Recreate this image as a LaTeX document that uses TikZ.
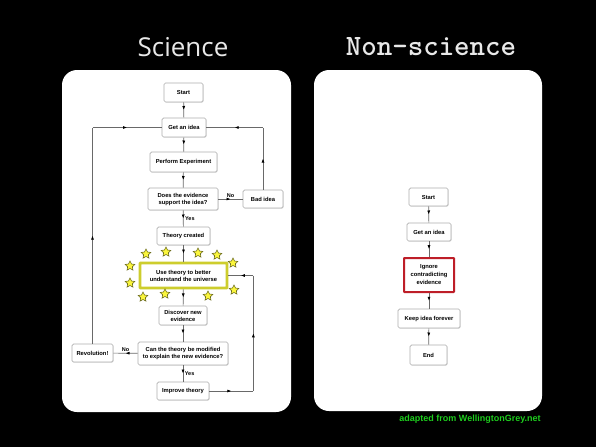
\documentclass[tikz,border=0pt]{standalone}
\usepackage{fontspec}
\usetikzlibrary{arrows.meta,decorations.markings,shapes.geometric,shadows}
\newfontfamily\boxfont{Liberation Sans}
\newfontfamily\titlefont{Open Sans}
\definecolor{boxgray}{RGB}{175,175,175}
\definecolor{linegray}{RGB}{105,105,105}
\definecolor{titlegray}{RGB}{232,232,232}
\definecolor{glowyellow}{RGB}{205,205,45}
\definecolor{staryellow}{RGB}{250,245,60}
\definecolor{starolive}{RGB}{110,110,30}
\definecolor{stopred}{RGB}{190,30,40}
\definecolor{creditgreen}{RGB}{30,205,30}

\begin{document}
\begin{tikzpicture}[x=1pt,y=-1pt,
  flowbox/.style={draw=boxgray, line width=0.7pt, rounded corners=1.5pt, fill=white,
    align=center, inner sep=1pt,
    font=\boxfont\bfseries\fontsize{5.8}{7}\selectfont,
    drop shadow={shadow xshift=0.7pt,shadow yshift=-0.7pt,fill=black!25}},
  midarrow/.style={draw=linegray, line width=0.7pt,
    decoration={markings,mark=at position 0.5 with {\arrow[black]{Latex[length=4pt,width=3pt]}}},
    postaction={decorate}},
  edgelabel/.style={font=\boxfont\bfseries\fontsize{5.5}{6}\selectfont, inner sep=1.5pt}]
\fill[black] (0,0) rectangle (596,447);
\useasboundingbox (0,0) rectangle (596,447);
% panels
\fill[white, rounded corners=15pt] (62,70) rectangle (291,412);
\fill[white, rounded corners=15pt] (314,70) rectangle (542,411);
\node[text=titlegray, font=\titlefont\fontsize{26}{30}\selectfont] (scititle) at (183,47) {Science};
\node[text=titlegray, font=\ttfamily\bfseries\fontsize{29.5}{32}\selectfont] (nonsctitle) at (431,47) {Non-science};

%SCIENCE
\node[flowbox, minimum width=39pt, minimum height=19pt] (start1) at (183.5,92.5) {Start};
\node[flowbox, minimum width=44pt, minimum height=19pt] (idea1) at (184,127.5) {Get an idea};
\node[flowbox, minimum width=67pt, minimum height=20pt] (exper) at (183.5,162) {Perform Experiment};
\node[flowbox, minimum width=70pt, minimum height=22pt] (support) at (183,199) {Does the evidence\\support the idea?};
\node[flowbox, minimum width=40pt, minimum height=18pt] (bad) at (263,199) {Bad idea};
\node[flowbox, minimum width=53pt, minimum height=18pt] (theory) at (183.5,236) {Theory created};
\node[flowbox, draw=glowyellow, line width=2.6pt, rounded corners=0.5pt, minimum width=87pt, minimum height=25pt] (use) at (183.5,275.5) {Use theory to better\\understand the universe};
\node[flowbox, minimum width=48pt, minimum height=19pt] (discover) at (183,315.5) {Discover new\\evidence};
\node[flowbox, minimum width=90pt, minimum height=23pt] (modify) at (183,353.5) {Can the theory be modified\\to explain the new evidence?};
\node[flowbox, minimum width=41pt, minimum height=18pt] (rev) at (92.5,353) {Revolution!};
\node[flowbox, minimum width=52pt, minimum height=18pt] (improve) at (183,391) {Improve theory};

\foreach \sx/\sy [count=\k] in {146/254,166/252,198/253,217/255,233/263,130/266,130/283,143/297,165/294,208/296,234/290}
  \node[star, star points=5, star point ratio=2, minimum size=10pt, inner sep=0pt,
    fill=staryellow, draw=starolive, line width=0.6pt] (star\k) at (\sx,\sy) {};

\coordinate (lt) at (rev.north |- idea1.west);
\coordinate (bt) at (bad.north |- idea1.east);
\coordinate (rb) at ([xshift=44pt]improve.east);
\coordinate (rt) at (rb |- use.east);

\draw[midarrow] (start1) -- (idea1);
\draw[midarrow] (idea1) -- (exper);
\draw[midarrow] (exper) -- (support);
\draw[midarrow] (support) -- node[edgelabel, above]{No} (bad);
\draw[midarrow] (bad) -- (bt);
\draw[midarrow] (bt) -- (idea1);
\draw[midarrow] (support) -- node[edgelabel, right]{Yes} (theory);
\draw[midarrow] (theory) -- (use);
\draw[midarrow] (use) -- (discover);
\draw[midarrow] (discover) -- (modify);
\draw[midarrow] (modify) -- node[edgelabel, above]{No} (rev);
\draw[midarrow] (rev) -- (lt);
\draw[midarrow] (lt) -- (idea1);
\draw[midarrow] (modify) -- node[edgelabel, right]{Yes} (improve);
\draw[midarrow] (improve) -- (rb);
\draw[midarrow] (rb) -- (rt);
\draw[midarrow] (rt) -- (use);

%NON-SCIENCE
\node[flowbox, minimum width=39pt, minimum height=18pt] (start2) at (428.5,197) {Start};
\node[flowbox, minimum width=44pt, minimum height=18pt] (idea2) at (429,232) {Get an idea};
\node[flowbox, draw=stopred, line width=2pt, rounded corners=0.5pt, minimum width=50pt, minimum height=34pt, font=\boxfont\bfseries\fontsize{5.8}{8}\selectfont] (ignore) at (429,275) {Ignore\\contradicting\\evidence};
\node[flowbox, minimum width=62pt, minimum height=19pt] (keep) at (429,318.5) {Keep idea forever};
\node[flowbox, minimum width=37pt, minimum height=20pt] (end2) at (428.5,355) {End};

\draw[midarrow] (start2) -- (idea2);
\draw[midarrow] (idea2) -- (ignore);
\draw[midarrow] (ignore) -- (keep);
\draw[midarrow] (keep) -- (end2);

\node[text=creditgreen, font=\boxfont\bfseries\fontsize{9}{10}\selectfont] (credit) at (470,419) {adapted from WellingtonGrey.net};
\end{tikzpicture}
\end{document}
